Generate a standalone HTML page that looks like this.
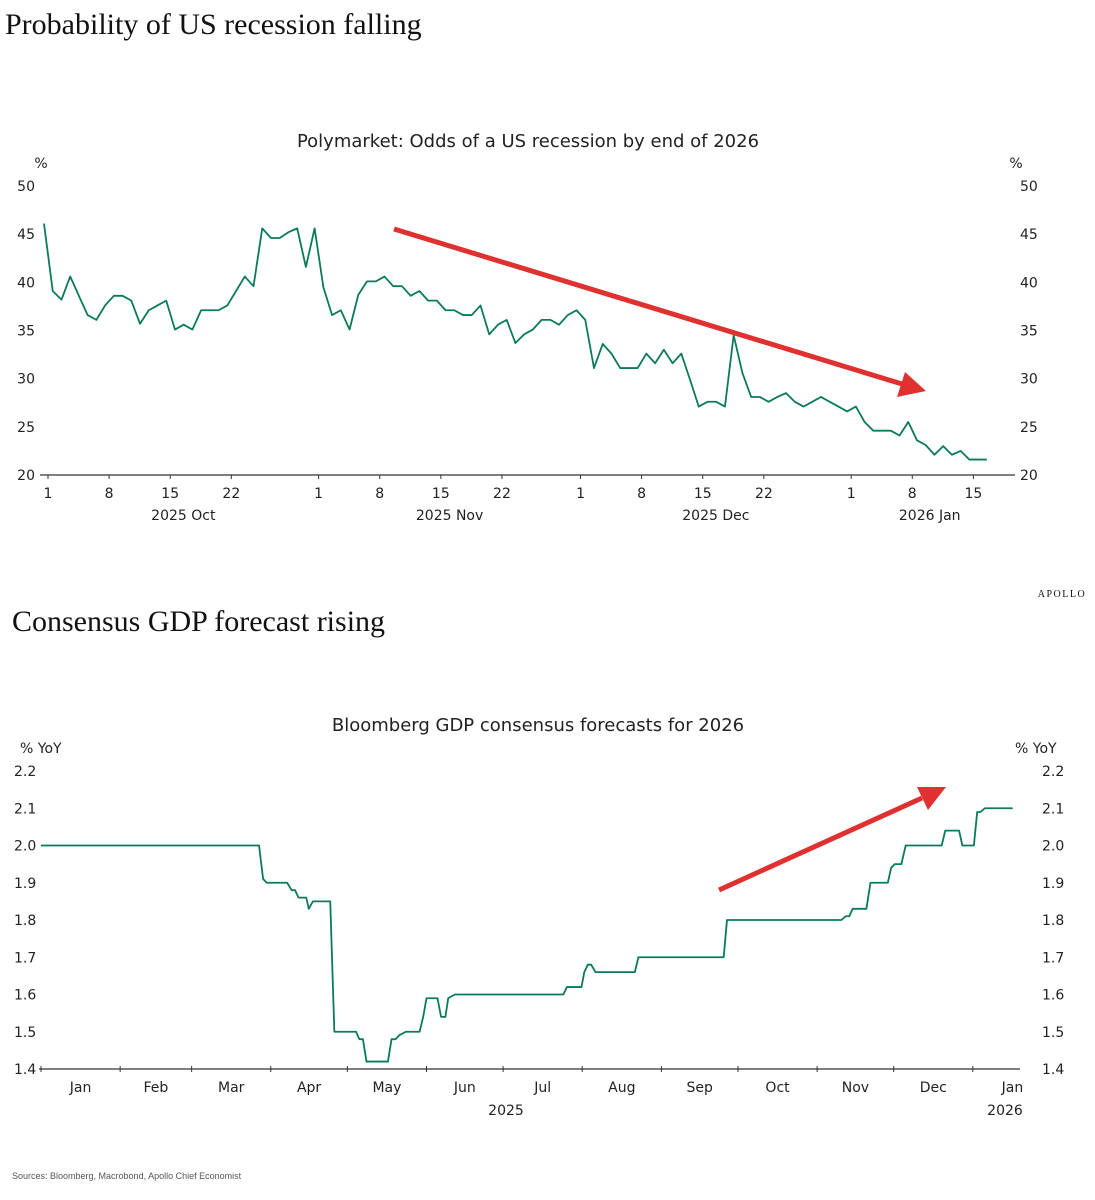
<!DOCTYPE html>
<html><head><meta charset="utf-8">
<style>
body{margin:0;background:#fff;width:1095px;height:1200px;overflow:hidden;}
svg{display:block}
.ser{font-family:"Liberation Serif",serif;fill:#111}
.sans{font-family:"DejaVu Sans","Liberation Sans",sans-serif;fill:#222}
</style></head><body>
<svg id="root" width="1095" height="1200" viewBox="0 0 1095 1200">
<text class="ser" x="5" y="34" font-size="30">Probability of US recession falling</text>
<text class="sans" x="528" y="147" font-size="18" text-anchor="middle">Polymarket: Odds of a US recession by end of 2026</text>
<text class="sans" x="41" y="168" font-size="14" text-anchor="middle">%</text>
<text class="sans" x="1016" y="168" font-size="14" text-anchor="middle">%</text>
<g id="topChart"></g>
<text class="ser" x="1062" y="597" font-size="10" text-anchor="middle" letter-spacing="1.5">APOLLO</text>
<text class="ser" x="12" y="631" font-size="30">Consensus GDP forecast rising</text>
<text class="sans" x="538" y="731" font-size="18" text-anchor="middle">Bloomberg GDP consensus forecasts for 2026</text>
<text class="sans" x="20" y="753" font-size="14">% YoY</text>
<text class="sans" x="1015" y="753" font-size="14">% YoY</text>
<g id="botChart"></g>
<text x="12" y="1179" font-size="9" fill="#555" font-family="Liberation Sans,sans-serif">Sources: Bloomberg, Macrobond, Apollo Chief Economist</text>
</svg>
<script>
// ---- Top chart data ----
const topValues=[46.1,39.1,38.2,40.6,38.6,36.6,36.1,37.6,38.6,38.6,38.1,35.7,37.1,37.6,38.1,35.1,35.6,35.1,37.1,37.1,37.1,37.6,39.1,40.6,39.6,45.6,44.6,44.6,45.2,45.6,41.6,45.6,39.5,36.6,37.1,35.1,38.7,40.1,40.1,40.6,39.6,39.6,38.6,39.1,38.1,38.1,37.1,37.1,36.6,36.6,37.6,34.6,35.6,36.1,33.7,34.6,35.1,36.1,36.1,35.6,36.6,37.1,36.1,31.1,33.6,32.6,31.1,31.1,31.1,32.6,31.6,33.0,31.6,32.6,29.9,27.1,27.6,27.6,27.1,34.5,30.6,28.1,28.1,27.6,28.1,28.5,27.6,27.1,27.6,28.1,27.6,27.1,26.6,27.1,25.5,24.6,24.6,24.6,24.1,25.5,23.6,23.1,22.1,23.0,22.1,22.5,21.6,21.6,21.6];
const topYTicks=[20,25,30,35,40,45,50];
const topXTickDays=[0,7,14,21,31,38,45,52,61,68,75,82,92,99,106];
const topXTickLabels=["1","8","15","22","1","8","15","22","1","8","15","22","1","8","15"];
const topMonthLabels=["2025 Oct","2025 Nov","2025 Dec","2026 Jan"];
const topMonthDays=[15.5,46,76.5,101];
// ---- Bottom chart data ----
const gdpDays=[0,85.4,87,88.4,96.4,98.2,99.5,100.9,103.9,104.9,106.5,113.3,114.9,123.4,124.7,126.1,127.5,135.9,137.3,138.9,140.2,142.9,148.3,149.7,151,155.3,156.7,158.4,159.5,162.1,204.6,206,211.7,212.8,214.2,215.5,217.2,232.6,234,267.4,268.7,313.5,315.2,316.6,317.9,323.3,324.9,331.7,333,334.4,337,338.7,352.8,354.2,359.6,360.9,365.4,366.7,368,369.7,380.6];
const gdpValues=[2.0,2.0,1.91,1.90,1.90,1.88,1.88,1.86,1.86,1.83,1.85,1.85,1.50,1.50,1.48,1.48,1.42,1.42,1.48,1.48,1.49,1.50,1.50,1.54,1.59,1.59,1.54,1.54,1.59,1.60,1.60,1.62,1.62,1.66,1.68,1.68,1.66,1.66,1.70,1.70,1.80,1.80,1.81,1.81,1.83,1.83,1.90,1.90,1.94,1.95,1.95,2.00,2.00,2.04,2.04,2.00,2.00,2.09,2.09,2.10,2.10];
const gdpYTicks=[1.4,1.5,1.6,1.7,1.8,1.9,2.0,2.1,2.2];
const monthNames=["Jan","Feb","Mar","Apr","May","Jun","Jul","Aug","Sep","Oct","Nov","Dec","Jan"];
const monthStarts=[0,31,59,90,120,151,181,212,243,273,304,334,365,396];

const NS="http://www.w3.org/2000/svg";
function mk(tag,attrs,parent,txt){const e=document.createElementNS(NS,tag);for(const k in attrs)e.setAttribute(k,attrs[k]);if(txt!==undefined)e.textContent=txt;parent.appendChild(e);return e;}
const GREEN="#0b7a5a", RED="#e03131";

const tx=i=>44+(i)*8.73;
const txd=d=>48+d*8.73;
const ty=v=>186+(50-v)*9.633;
const topG=document.getElementById('topChart');
let ax=mk('line',{x1:40,x2:1015,y1:475,y2:475,stroke:'#333','stroke-width':1.2},topG);


topYTicks.forEach(v=>{
  let t=mk('text',{x:35,y:ty(v)+5,'font-size':14,'text-anchor':'end',class:'sans'},topG,v);
  
  
  let t2=mk('text',{x:1020,y:ty(v)+5,'font-size':14,class:'sans'},topG,v);
  
  
});
topXTickDays.forEach((d,i)=>{
  let l=mk('line',{x1:txd(d),x2:txd(d),y1:475,y2:479,stroke:'#333'},topG);
  
  
  let t=mk('text',{x:txd(d),y:498,'font-size':14,'text-anchor':'middle',class:'sans'},topG,topXTickLabels[i]);
  
  
});
topMonthLabels.forEach((m,i)=>{
  let t=mk('text',{x:txd(topMonthDays[i]),y:520,'font-size':14,'text-anchor':'middle',class:'sans'},topG,m);
  
  
});
let tp=mk('polyline',{points:topValues.map((v,i)=>tx(i)+','+ty(v)).join(' '),fill:'none',stroke:GREEN,'stroke-width':1.8,'stroke-linejoin':'round'},topG);


let a1=mk('line',{x1:394,y1:229,x2:902,y2:384,stroke:RED,'stroke-width':5},topG);


let h1=mk('polygon',{points:'926,391 897,397 905,372',fill:RED},topG);



const bx=d=>41+d*2.553;
const by=v=>1069-(v-1.4)*372.5;
const botG=document.getElementById('botChart');
let bax=mk('line',{x1:39,x2:1020,y1:1069,y2:1069,stroke:'#333','stroke-width':1.2},botG);


gdpYTicks.forEach(v=>{
  let t=mk('text',{x:14,y:by(v)+5,'font-size':14,class:'sans'},botG,v.toFixed(1));
  
  
  let t2=mk('text',{x:1042,y:by(v)+5,'font-size':14,class:'sans'},botG,v.toFixed(1));
  
  
});
monthNames.forEach((m,i)=>{
  let l=mk('line',{x1:bx(monthStarts[i]),x2:bx(monthStarts[i]),y1:1066,y2:1072,stroke:'#333'},botG);
  
  
  let t=mk('text',{x:bx((monthStarts[i]+monthStarts[i+1])/2),y:1092,'font-size':14,'text-anchor':'middle',class:'sans'},botG,m);
  
  
});
let y1=mk('text',{x:506,y:1115,'font-size':14,'text-anchor':'middle',class:'sans'},botG,'2025');


let y2=mk('text',{x:1005,y:1115,'font-size':14,'text-anchor':'middle',class:'sans'},botG,'2026');


let bp=mk('polyline',{points:gdpDays.map((d,i)=>bx(d)+','+by(gdpValues[i])).join(' '),fill:'none',stroke:GREEN,'stroke-width':1.8,'stroke-linejoin':'round'},botG);


let a2=mk('line',{x1:719,y1:890,x2:922,y2:798,stroke:RED,'stroke-width':5},botG);


let h2=mk('polygon',{points:'946,787 928,810 917,787',fill:RED},botG);


</script>
</body></html>
